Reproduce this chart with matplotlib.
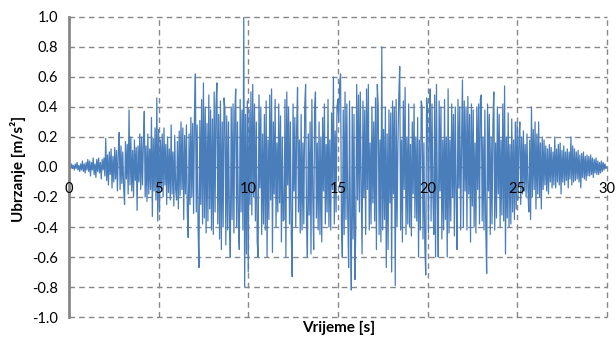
import numpy as np
import matplotlib.pyplot as plt

# Akcelerogram: ubrzanje ocitano sa slike, korak 0.05 s (vrijednosti u cm/s2 -> /100)
dt = 0.05
sekunde = [
    [0, 1, -1, 2, -1, 1, -2, 2, -1, 3, -2, 1, -3, 2, -2, 4, -3, 2, -4, 3],
    [-2, 5, -3, 4, -6, 3, -2, 6, -5, 2, -7, 5, -3, 6, -4, 3, -8, 5, -2, 6],
    [-6, 19, -9, 8, -12, 10, -5, 12, -14, 7, -10, 13, -8, 11, -16, 9, 23, -15, 14, -11],
    [10, -14, -25, 17, -8, 15, -18, 38, -12, 20, -16, 11, -20, 18, -9, 13, -29, 14, -10, 22],
    [-15, 20, -12, 16, 37, -20, 14, -23, 22, -18, 12, -15, 33, -33, 19, -16, 26, -22, 46, -36],
    [25, -30, 18, -14, 22, -20, 26, -12, 15, -25, 20, -17, 12, -22, 28, -18, 10, -26, 21, -15],
    [-22, 17, -28, 24, -19, 30, -15, 26, -35, 21, -18, 28, -30, -47, 22, -25, 33, -20, 29, -31],
    [35, 62, -30, 28, -40, -67, 31, -25, 45, -38, 56, -34, 40, -44, 29, -36, 48, -28, 38, -42],
    [32, -45, 50, -30, 41, 56, -38, 35, -48, 44, -55, 30, -40, 46, 38, -52, 34, -42, 30, -36],
    [-60, 40, -35, 42, -44, 36, 52, -40, 30, -38, -55, 45, -30, 38, -42, 100, -80, 35, -58, 44],
    [-70, 38, -25, 50, -32, 55, -20, 42, -36, 30, -50, -60, 48, -14, 40, -45, 22, -38, 35, -42],
    [44, -60, 18, -35, 48, -22, 52, -57, 30, -18, 45, -40, 16, -30, 42, -24, 34, -50, 20, -36],
    [-35, 45, -60, 50, -12, 40, -38, 30, -45, -73, 42, -16, 33, -40, 26, 53, -30, 18, -44, 35],
    [-42, 16, -38, 40, 55, -35, -60, 22, -32, 30, -58, 45, -20, -55, 38, 50, -34, 16, -42, 30],
    [-45, 20, -50, 33, -16, 42, -38, 15, -30, 45, -40, 18, -42, 36, -15, 60, -38, 24, -30, 40],
    [45, 30, 56, 62, -40, -60, 38, -45, 50, -35, 42, -30, -67, 44, -38, -82, 40, -48, 35, -75],
    [-40, 55, -22, 48, -30, 50, -16, -58, 44, -20, 38, -45, 52, -15, 55, -42, 16, -38, 40, -24],
    [30, -36, 46, -55, 55, 40, -45, 18, -50, 80, -42, 25, -35, 40, -67, 22, -55, 38, -24, 36],
    [-70, 44, -18, 40, -79, 45, -40, 16, 48, 67, -42, 18, -50, 44, -15, 53, -45, 20, -38, 42],
    [-40, 15, -46, 30, -18, 42, -34, 20, -36, 33, -60, 18, -42, 44, 40, -48, 16, -52, -72, 46],
    [38, -44, 20, 52, -36, 42, -18, -45, 48, -60, 55, -20, -60, 44, -16, 40, -48, 18, -42, 45],
    [-35, 20, -60, 52, -44, 18, -36, 42, -20, 35, -46, 40, -18, -55, 45, -14, 40, -42, 16, 58],
    [-40, 44, -16, 40, -42, 47, -18, 35, -50, 42, -26, 38, -40, 16, -44, 40, -15, 42, -38, 45],
    [48, -36, 20, -42, 38, -40, -71, 42, -16, 35, -45, 20, -38, 30, 50, -42, 16, -34, 40, -18],
    [35, -40, 18, -32, 42, -36, 54, -58, 20, -34, 36, -40, 15, -38, 32, -30, 18, -35, 30, -28],
    [30, -22, 18, 30, -25, 20, -18, 24, -16, 15, -20, 22, -14, -30, 18, -35, 40, -20, 25, -15],
    [30, -28, 22, -18, 30, -20, 16, -28, 20, -15, 18, -12, 14, -16, 12, -18, 15, -10, 13, -14],
    [10, -12, 20, -14, 12, -10, 15, -12, 16, -18, 11, -10, 14, -12, 10, -9, 12, -14, 10, -8],
    [20, -12, 14, -10, 12, -9, 10, -8, 11, -10, 8, -14, 9, -7, 10, -8, 7, -9, 8, -6],
    [7, -6, 8, -5, 6, -7, 5, -4, 6, -5, 4, -5, 3, -4, 4, -3, 3, -2, 2, -1],
    [0],
]

a = np.concatenate([np.array(s, dtype=float) for s in sekunde]) / 100.0
t = np.arange(len(a)) * dt

x_ticks = [0, 5, 10, 15, 20, 25, 30]
y_ticks = [-1.0, -0.8, -0.6, -0.4, -0.2, 0.0, 0.2, 0.4, 0.6, 0.8, 1.0]

plt.rcParams['font.family'] = ['Lato', 'DejaVu Sans']

fig = plt.figure(figsize=(6.16, 3.38), dpi=100)
ax = fig.add_axes([0.112, 0.062, 0.873, 0.888])

ax.plot(t, a, color='#4a7ebb', lw=0.9, zorder=3)

ax.set_xlim(0, 30)
ax.set_ylim(-1.0, 1.0)
ax.set_xticks(x_ticks)
ax.set_yticks(y_ticks)
ax.set_yticklabels([f'{v:.1f}' for v in y_ticks])

siva = '#878787'
for v in x_ticks[1:]:
    ax.axvline(v, color=siva, lw=1.0, ls=(0, (4, 3)), zorder=1, clip_on=False)
for v in y_ticks:
    ax.axhline(v, color=siva, lw=1.0, ls=(0, (4, 3)), zorder=1, clip_on=False)
# lijeva os - puna siva linija
ax.axvline(0, color=siva, lw=2.0, zorder=4, clip_on=False)

for s in ['top', 'right', 'left']:
    ax.spines[s].set_visible(False)
# os x prolazi kroz nulu, oznake su ispod nje
ax.spines['bottom'].set_position(('data', 0))
ax.spines['bottom'].set_visible(False)
ax.xaxis.set_zorder(5)

ax.tick_params(axis='both', length=0, labelsize=10.5, colors='black')
ax.tick_params(axis='x', pad=11)
ax.tick_params(axis='y', pad=8)

fig.text(0.029, 0.5, 'Ubrzanje [m/s²]', rotation=90, ha='center', va='center',
         fontsize=11, fontweight='bold')
fig.text(0.549, 0.03, 'Vrijeme [s]', ha='center', va='center',
         fontsize=11, fontweight='bold')

fig.savefig('out.png', dpi=100)
